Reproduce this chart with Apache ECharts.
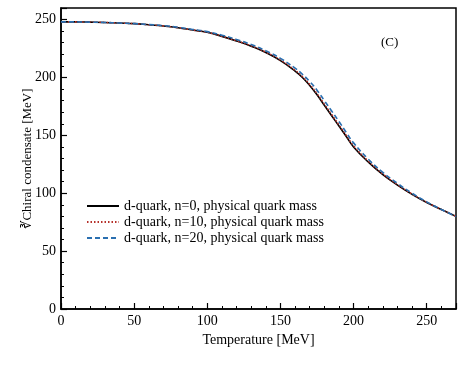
<!DOCTYPE html>
<html>
<head>
<meta charset="utf-8">
<script src="https://cdn.jsdelivr.net/npm/echarts@6/dist/echarts.min.js"></script>
<style>
  html, body { margin: 0; padding: 0; background: #fff; }
  #chart { width: 463px; height: 371px; }
</style>
</head>
<body>
<div id="chart"></div>
<script>
  // temperature grid [MeV]
  var temps = [0, 10, 20, 30, 40, 50, 60, 70, 80, 90, 100, 110, 120, 130, 140, 150, 160, 165, 170, 175, 180, 185, 190, 195, 200, 210, 220, 230, 240, 250, 260, 270]
  // d-quark condensate, n=0
  var n0 = [248, 248, 247.8, 247.5, 247, 246.5, 245.5, 244.5, 243, 241, 239, 235.5, 231.5, 227, 221.5, 214.5, 205.5, 200, 193, 185, 176, 167, 158, 149, 140, 127, 116, 107, 99, 92, 86, 80]
  // n=10
  var n10 = [248, 248, 247.8, 247.5, 247, 246.5, 245.5, 244.5, 243, 241, 239, 235.6, 231.7, 227.3, 221.9, 215, 206.2, 200.8, 194, 186, 177, 168, 159, 150, 141, 127.8, 116.6, 107.4, 99.3, 92.2, 86, 80]
  // n=20
  var n20 = [248, 248, 247.8, 247.5, 247, 246.5, 245.7, 244.8, 243.3, 241.5, 239.6, 236.5, 232.8, 228.5, 223, 216.5, 208, 202.8, 196.5, 189, 180, 171, 162, 152.5, 143.5, 129.5, 118, 108.5, 100, 92.5, 86, 80]
  var names = ['d-quark, n=0, physical quark mass', 'd-quark, n=10, physical quark mass', 'd-quark, n=20, physical quark mass']

  function pairs(ys) {
    return temps.map(function (t, i) { return [t, ys[i]] })
  }

  var chart = echarts.init(document.getElementById('chart'))
  var font = 'Liberation Serif'
  var option = {
    animation: false,
    textStyle: { fontFamily: font },
    grid: {
      left: 61, right: 7, top: 8, bottom: 62,
      show: true, borderColor: '#000', borderWidth: 1.5
    },
    legend: {
      left: 81, top: 194,
      orient: 'vertical',
      itemWidth: 32, itemHeight: 10, itemGap: 2,
      itemStyle: { opacity: 0 },
      textStyle: { fontFamily: font, fontSize: 14, color: '#000' },
      data: names
    },
    graphic: [{
      type: 'text', left: 381, top: 36,
      style: { text: '(C)', font: '13px "Liberation Serif"', fill: '#000' }
    }],
    xAxis: {
      type: 'value', min: 0, max: 270, interval: 50,
      name: 'Temperature [MeV]', nameLocation: 'middle', nameGap: 24,
      nameTextStyle: { fontFamily: font, fontSize: 14, color: '#000' },
      axisLine: { show: true, lineStyle: { color: '#000', width: 1.5 } },
      axisTick: { show: true, inside: true, length: 6, lineStyle: { color: '#000', width: 1.2 } },
      minorTick: { show: true, splitNumber: 5, length: 3, lineStyle: { color: '#000', width: 1 } },
      axisLabel: { color: '#000', fontSize: 14, margin: 5, showMaxLabel: false },
      splitLine: { show: false }
    },
    yAxis: {
      type: 'value', min: 0, max: 260, interval: 50,
      name: '\u221BChiral condensate [MeV]', nameLocation: 'middle', nameGap: 27,
      nameMoveOverlap: false,
      nameTextStyle: { fontFamily: font, fontSize: 13, color: '#000' },
      axisLine: { show: true, lineStyle: { color: '#000', width: 1.5 } },
      axisTick: { show: true, inside: true, length: 6, lineStyle: { color: '#000', width: 1.2 } },
      minorTick: { show: true, splitNumber: 5, length: 3, lineStyle: { color: '#000', width: 1 } },
      axisLabel: { color: '#000', fontSize: 14, margin: 5, showMaxLabel: false },
      splitLine: { show: false }
    },
    series: [
      {
        name: names[0], type: 'line', smooth: true, symbol: 'none',
        lineStyle: { color: '#000', width: 1.6, type: 'solid' },
        itemStyle: { color: '#000' },
        data: pairs(n0)
      },
      {
        name: names[1], type: 'line', smooth: true, symbol: 'none',
        lineStyle: { color: '#b5302a', width: 1.6, type: [1.5, 2] },
        itemStyle: { color: '#b5302a' },
        data: pairs(n10)
      },
      {
        name: names[2], type: 'line', smooth: true, symbol: 'none',
        lineStyle: { color: '#2a6fb0', width: 1.6, type: [5, 3] },
        itemStyle: { color: '#2a6fb0' },
        data: pairs(n20)
      }
    ]
  }
  chart.setOption(option)
</script>
</body>
</html>
